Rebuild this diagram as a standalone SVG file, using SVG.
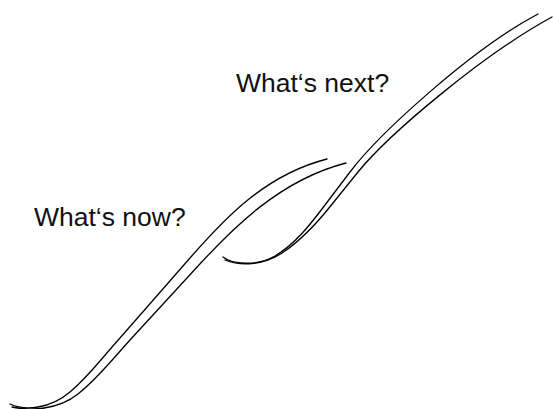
<svg xmlns="http://www.w3.org/2000/svg" width="553" height="409" viewBox="0 0 553 409">
<style>
.stroke{fill:none;stroke:#000;stroke-width:1.3;stroke-linecap:round;stroke-linejoin:round}
.label{font-family:"Liberation Sans",Arial,sans-serif;font-size:26.5px;fill:#111}
</style>
<rect width="553" height="409" fill="#fff"/>
<g id="connectors">
<g id="curve-now">
<path class="stroke" d="M 10 404 C 25 411, 50 409, 70 392 S 100 360, 120 338 L 190 258 C 225 218, 265 175, 327 159"/>
<path class="stroke" d="M 12 407 C 30 411, 58 410, 78 394 S 110 362, 130 340 L 198 266 C 233 228, 280 180, 346 163"/>
</g>
<g id="curve-next">
<path class="stroke" d="M 223 257 C 232 264, 255 267, 275 256 C 295 244, 310 225, 325 205 L 350 172 C 378 135, 470 50, 538 14"/>
<path class="stroke" d="M 225 260 C 240 266, 262 266, 282 253 C 302 240, 318 222, 333 203 L 358 172 C 388 135, 482 55, 552 17"/>
</g>
</g>
<g id="label-next"><text class="label" x="236" y="92">What‘s next?</text></g>
<g id="label-now"><text class="label" x="34" y="226">What‘s now?</text></g>
</svg>
